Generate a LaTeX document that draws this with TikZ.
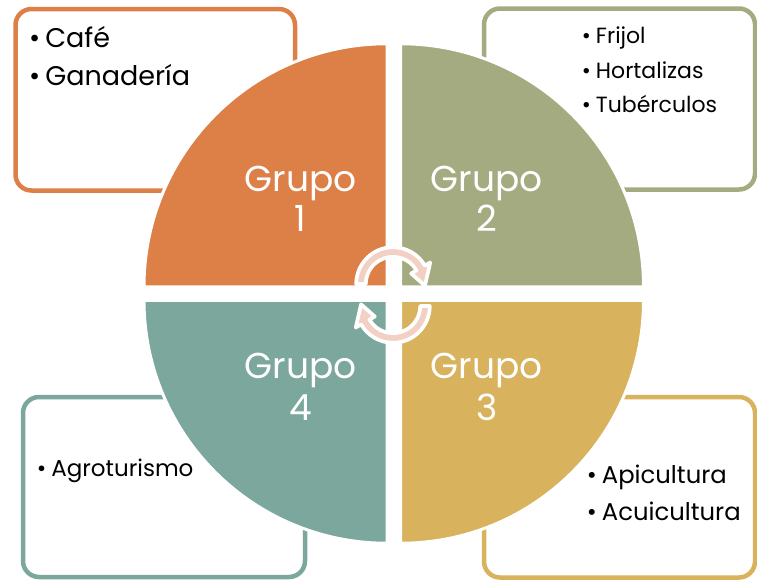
\documentclass[tikz,border=0pt]{standalone}
\usepackage{fontspec}
\setmainfont{Poppins}
\usetikzlibrary{calc}
\definecolor{qorange}{RGB}{221,128,71}
\definecolor{qgreen}{RGB}{165,171,129}
\definecolor{qgold}{RGB}{216,178,92}
\definecolor{qteal}{RGB}{123,167,157}
\definecolor{qpink}{RGB}{242,208,195}
\begin{document}
\begin{tikzpicture}[x=1pt,y=1pt,
  boxframe/.style={line width=4.5pt, rounded corners=16pt, fill=white},
  quad/.style={draw=white, line width=3pt},
  grp/.style={anchor=base, inner sep=0pt, text=white, font=\fontsize{36}{40}\selectfont},
  itemA/.style={anchor=base west, inner sep=0pt, text=black, font=\fontsize{27}{32}\selectfont},
  itemB/.style={anchor=base west, inner sep=0pt, text=black, font=\fontsize{22}{26}\selectfont},
  itemC/.style={anchor=base west, inner sep=0pt, text=black, font=\fontsize{24.3}{30}\selectfont},
  itemD/.style={anchor=base west, inner sep=0pt, text=black, font=\fontsize{23}{28}\selectfont},
  cyc/.style={fill=qpink, draw=white, line width=3.7pt, line join=round}
]
\useasboundingbox (0,0) rectangle (757,-581);
% side boxes
\draw[boxframe, draw=qorange] (15.5,-9) rectangle (295,-190.5);
\draw[boxframe, draw=qgreen] (484,-8.5) rectangle (755,-189.5);
\draw[boxframe, draw=qgold] (484,-397) rectangle (755,-577.5);
\draw[boxframe, draw=qteal] (23,-397) rectangle (305,-577);
% quadrants
\filldraw[quad, fill=qorange] (387,-286.75) -- ++(-243,0) arc[start angle=180, end angle=90, radius=243] -- cycle;
\filldraw[quad, fill=qgreen] (400.5,-286.75) -- ++(0,243) arc[start angle=90, end angle=0, radius=243] -- cycle;
\filldraw[quad, fill=qgold] (400.5,-300.25) -- ++(243,0) arc[start angle=0, end angle=-90, radius=243] -- cycle;
\filldraw[quad, fill=qteal] (387,-300.25) -- ++(0,-243) arc[start angle=-90, end angle=-180, radius=243] -- cycle;
% group labels
\node[grp] (g1) at (300.8,-191.7) {Grupo};
\node[grp] (n1) at (300.5,-231.7) {1};
\node[grp] (g2) at (486.7,-191.7) {Grupo};
\node[grp] (n2) at (486.7,-231.7) {2};
\node[grp] (g3) at (486.7,-378.3) {Grupo};
\node[grp] (n3) at (486.7,-420) {3};
\node[grp] (g4) at (300.8,-378.3) {Grupo};
\node[grp] (n4) at (300.5,-420) {4};
% cycle arrows
\coordinate (U) at (393,-284);
\coordinate (L) at (393,-306);
\filldraw[cyc] ($(U)+(180:36.8)$) arc[start angle=180, end angle=30, radius=36.8]
  -- ($(U)+(30:43)$) -- ($(U)+(-3:32)$) -- ($(U)+(30:21)$) -- ($(U)+(30:27.2)$)
  arc[start angle=30, end angle=180, radius=27.2] -- cycle;
\filldraw[cyc] ($(L)+(0:36.8)$) arc[start angle=0, end angle=-150, radius=36.8]
  -- ($(L)+(-150:43)$) -- ($(L)+(-183:32)$) -- ($(L)+(-150:21)$) -- ($(L)+(-150:27.2)$)
  arc[start angle=-150, end angle=0, radius=27.2] -- cycle;
% box texts
\node[itemA] (a1) at (29,-47) {•\kern5pt Café};
\node[itemA] (a2) at (29,-85) {•\kern5pt Ganadería};
\node[itemB] (b1) at (581.7,-43) {•\kern5pt Frijol};
\node[itemB] (b2) at (581.7,-78) {•\kern5pt Hortalizas};
\node[itemB] (b3) at (581.7,-112) {•\kern5pt Tubérculos};
\node[itemC] (c1) at (586.7,-483) {•\kern5pt Apicultura};
\node[itemC] (c2) at (586.7,-520) {•\kern5pt Acuicultura};
\node[itemD] (d1) at (36.7,-476.7) {•\kern5pt Agroturismo};
\end{tikzpicture}
\end{document}
